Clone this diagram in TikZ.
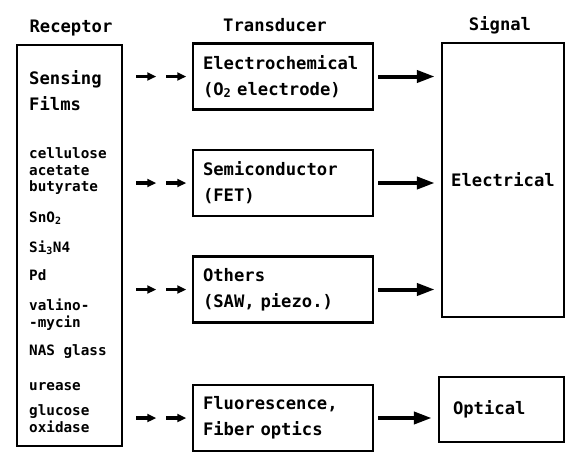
\documentclass[tikz,border=0pt]{standalone}
\usepackage{fontspec}
\setmonofont{DejaVu Sans Mono}
\usetikzlibrary{positioning, arrows.meta, decorations.markings}

\begin{document}
\begin{tikzpicture}[
  x=1pt, y=-1pt,
  font=\ttfamily\bfseries\fontsize{17.2}{26}\selectfont,
  box/.style={draw, line width=2.5pt, inner sep=0pt},
  tbox/.style={box, minimum height=66pt, text width=160pt, inner xsep=10pt,
    align=left},
  rtext/.style={anchor=west, align=left, inner sep=0pt},
  small/.style={font=\ttfamily\bfseries\fontsize{14.3}{16.5}\selectfont},
  arrow/.style={line width=4pt, -{Triangle[length=18pt,width=12pt]},
    shorten <=4pt, shorten >=6pt},
  tiparrow/.style={line width=3.5pt, -{Triangle[length=9pt,width=8pt]}},
  dasharrow/.style={decoration={markings,
      mark=at position 13pt with {\draw[tiparrow] (0pt,0pt) -- (20pt,0pt);},
      mark=at position 43pt with {\draw[tiparrow] (0pt,0pt) -- (20pt,0pt);}},
    decorate},
]
  \useasboundingbox (0,0) rectangle (576,458);

  % column heads
  \node (hrec) at (71,28) {Receptor};
  \node (htra) at (275,25) {Transducer};
  \node (hsig) at (500,25) {Signal};

  % receptor column
  \node[box, minimum width=105pt, minimum height=401pt] (rec) at (69.5,245.5) {};
  \node[rtext] (r0) at (29,90.5) {Sensing\\Films};
  \foreach \y/\txt [count=\i] in {171.5/{cellulose\\acetate\\butyrate},
      218/{SnO\textsubscript{2}}, 248/{Si\textsubscript{3}N4}, 275/{Pd},
      314.5/{valino-\\-mycin}, 352/{NAS glass}, 387/{urease},
      418.5/{glucose\\oxidase}}{
    \node[rtext, small] (r\i) at (29,\y) {\txt};
  }

  % transducers
  \node[tbox] (t1) at (283,76.5) {Electrochemical\\(O\textsubscript{2} electrode)};
  \node[tbox, below=38pt of t1] (t2) {Semiconductor\\(FET)};
  \node[tbox, below=38pt of t2] (t3) {Others\\(SAW, piezo.)};
  \node[tbox, below=60pt of t3] (t4) {Fluorescence,\\Fiber optics};

  % signals
  \node[box, minimum width=122pt, minimum height=274pt] (elec) at (503,180) {Electrical};
  \node[box, minimum width=125pt, minimum height=65pt, text width=97pt,
    inner xsep=14pt, align=left] (opt) at (501.5,409.5) {Optical};

  \foreach \t in {t1,t2,t3,t4}{
    \path[dasharrow] (rec.east |- \t.west) -- (\t.west);
  }
  \foreach \t in {t1,t2,t3}{
    \draw[arrow] (\t.east) -- (\t.east -| elec.west);
  }
  \draw[arrow] (t4.east) -- (t4.east -| opt.west);
\end{tikzpicture}
\end{document}
